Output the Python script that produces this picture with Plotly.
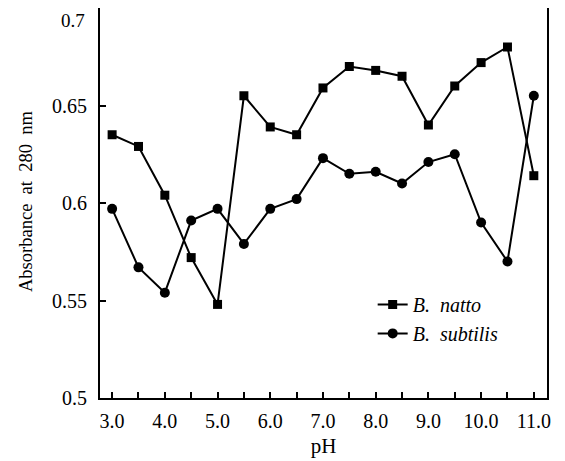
import plotly.graph_objects as go

ph = [3.0, 3.5, 4.0, 4.5, 5.0, 5.5, 6.0, 6.5, 7.0, 7.5, 8.0, 8.5, 9.0, 9.5, 10.0, 10.5, 11.0]
natto = [0.635, 0.629, 0.604, 0.572, 0.548, 0.655, 0.639, 0.635, 0.659, 0.670, 0.668, 0.665,
         0.640, 0.660, 0.672, 0.680, 0.614]
subtilis = [0.597, 0.567, 0.554, 0.591, 0.597, 0.579, 0.597, 0.602, 0.623, 0.615, 0.616, 0.610,
            0.621, 0.625, 0.590, 0.570, 0.655]
x_tick_vals = [3, 4, 5, 6, 7, 8, 9, 10, 11]
x_tick_text = ["3.0", "4.0", "5.0", "6.0", "7.0", "8.0", "9.0", "10.0", "11.0"]
y_tick_vals = [0.5, 0.55, 0.6, 0.65, 0.7]
y_tick_text = ["0.5", "0.55", "0.6", "0.65", "0.7"]
y_title = "Absorbance\u00a0 at\u00a0 280\u00a0 nm"
x_title = "pH"

FONT = "'Liberation Serif', 'DejaVu Serif'"

fig = go.Figure()
fig.add_trace(go.Scatter(
    x=ph, y=natto, mode="lines+markers", name="<i>B.\u00a0 natto</i>",
    line=dict(color="black", width=2),
    marker=dict(symbol="square", size=9, color="black"),
))
fig.add_trace(go.Scatter(
    x=ph, y=subtilis, mode="lines+markers", name="<i>B.\u00a0 subtilis</i>",
    line=dict(color="black", width=2),
    marker=dict(symbol="circle", size=10, color="black"),
))

# top tick label sits slightly below its tick in the original
fig.add_annotation(x=0, xref="paper", y=y_tick_vals[-1], yref="y",
                   text=y_tick_text[-1], showarrow=False,
                   xanchor="right", yanchor="middle", xshift=-14, yshift=-12,
                   borderpad=0,
                   font=dict(size=19, family=FONT, color="black"))
# y-axis title
fig.add_annotation(x=0, xref="paper", y=0.5, yref="paper",
                   text=y_title, showarrow=False, textangle=-90,
                   xanchor="center", yanchor="middle", xshift=-74, yshift=1,
                   font=dict(size=18.5, family=FONT, color="black"))

fig.update_layout(
    width=557, height=453,
    margin=dict(l=92, r=18, t=0, b=63),
    paper_bgcolor="white", plot_bgcolor="white",
    font=dict(family=FONT, size=20, color="black"),
    showlegend=True,
    legend=dict(x=0.61, y=0.29, xanchor="left", yanchor="top",
                bgcolor="rgba(0,0,0,0)", font=dict(size=20, family=FONT),
                tracegroupgap=0, itemwidth=30),
    xaxis=dict(
        range=[2.77, 11.25], tickvals=x_tick_vals, ticktext=x_tick_text,
        ticks="inside", ticklen=6, tickwidth=1.5, tickcolor="black",
        ticklabelstandoff=4,
        minor=dict(dtick=0.5, tick0=3, ticks="inside", ticklen=6, tickwidth=1.5, tickcolor="black"),
        showline=True, linecolor="black", linewidth=2, mirror=True,
        showgrid=False, zeroline=False, automargin=False,
        title=dict(text=x_title, font=dict(size=21, family=FONT), standoff=7),
        tickfont=dict(size=20, family=FONT),
    ),
    yaxis=dict(
        range=[0.5, 0.7], tickvals=y_tick_vals, ticktext=y_tick_text[:-1] + [""],
        ticks="inside", ticklen=6, tickwidth=1.5, tickcolor="black",
        ticklabelstandoff=7,
        showline=True, linecolor="black", linewidth=2, mirror=True,
        showgrid=False, zeroline=False, automargin=False,
        tickfont=dict(size=20, family=FONT),
    ),
)

fig.write_html("out.html")
